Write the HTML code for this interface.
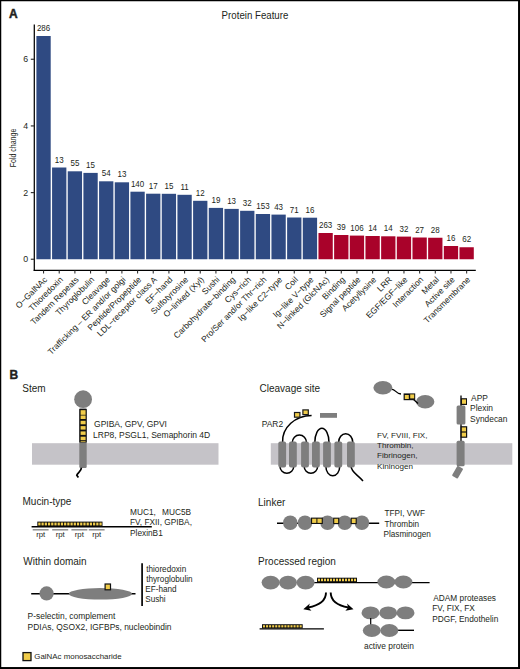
<!DOCTYPE html>
<html><head><meta charset="utf-8"><style>
html,body{margin:0;padding:0;background:#fff;overflow:hidden;}
svg{display:block;font-family:"Liberation Sans", sans-serif;}
</style></head><body>
<svg width="520" height="669" viewBox="0 0 520 669">
<rect x="0" y="0" width="520" height="669" fill="#fff"/>
<text x="9" y="18.3" font-size="12" font-weight="bold" fill="#231f20" stroke="#231f20" stroke-width="0.45">A</text>
<text transform="translate(255,19.1) scale(1,1.12)" font-size="9.7" text-anchor="middle" fill="#231f20">Protein Feature</text>
<text transform="translate(15.7,148) rotate(-90) scale(0.78,1)" font-size="9" text-anchor="middle" fill="#231f20">Fold change</text>
<line x1="34.3" y1="24.6" x2="34.3" y2="271.1" stroke="#000" stroke-width="1.25"/>
<line x1="33.7" y1="270.4" x2="475.8" y2="270.4" stroke="#000" stroke-width="1.35"/>
<line x1="30.8" y1="259.25" x2="34" y2="259.25" stroke="#333" stroke-width="1.2"/>
<text transform="translate(28.2,262.45) scale(1,1.1)" font-size="8.8" text-anchor="end" fill="#231f20">0</text>
<line x1="30.8" y1="192.59" x2="34" y2="192.59" stroke="#333" stroke-width="1.2"/>
<text transform="translate(28.2,195.79) scale(1,1.1)" font-size="8.8" text-anchor="end" fill="#231f20">2</text>
<line x1="30.8" y1="125.93" x2="34" y2="125.93" stroke="#333" stroke-width="1.2"/>
<text transform="translate(28.2,129.13) scale(1,1.1)" font-size="8.8" text-anchor="end" fill="#231f20">4</text>
<line x1="30.8" y1="59.27" x2="34" y2="59.27" stroke="#333" stroke-width="1.2"/>
<text transform="translate(28.2,62.47) scale(1,1.1)" font-size="8.8" text-anchor="end" fill="#231f20">6</text>
<rect x="36.40" y="36" width="14.3" height="223.25" fill="#2f4a82"/>
<text transform="translate(43.55,31.00) scale(1,1.1)" font-size="8" text-anchor="middle" fill="#231f20">286</text>
<line x1="43.55" y1="270.6" x2="43.55" y2="273.4" stroke="#333" stroke-width="1.1"/>
<text transform="translate(43.25,275.7) rotate(-45)" font-size="8.45" text-anchor="end" dominant-baseline="hanging" fill="#231f20">O−GalNAc</text>
<rect x="52.07" y="167.5" width="14.3" height="91.75" fill="#2f4a82"/>
<text transform="translate(59.22,162.50) scale(1,1.1)" font-size="8" text-anchor="middle" fill="#231f20">13</text>
<line x1="59.22" y1="270.6" x2="59.22" y2="273.4" stroke="#333" stroke-width="1.1"/>
<text transform="translate(58.92,275.7) rotate(-45)" font-size="8.45" text-anchor="end" dominant-baseline="hanging" fill="#231f20">Thioredoxin</text>
<rect x="67.74" y="171.3" width="14.3" height="87.95" fill="#2f4a82"/>
<text transform="translate(74.89,166.30) scale(1,1.1)" font-size="8" text-anchor="middle" fill="#231f20">55</text>
<line x1="74.89" y1="270.6" x2="74.89" y2="273.4" stroke="#333" stroke-width="1.1"/>
<text transform="translate(74.59,275.7) rotate(-45)" font-size="8.45" text-anchor="end" dominant-baseline="hanging" fill="#231f20">Tandem Repeats</text>
<rect x="83.41" y="172.9" width="14.3" height="86.35" fill="#2f4a82"/>
<text transform="translate(90.56,167.90) scale(1,1.1)" font-size="8" text-anchor="middle" fill="#231f20">15</text>
<line x1="90.56" y1="270.6" x2="90.56" y2="273.4" stroke="#333" stroke-width="1.1"/>
<text transform="translate(90.26,275.7) rotate(-45)" font-size="8.45" text-anchor="end" dominant-baseline="hanging" fill="#231f20">Thyroglobulin</text>
<rect x="99.08" y="181.3" width="14.3" height="77.95" fill="#2f4a82"/>
<text transform="translate(106.23,176.30) scale(1,1.1)" font-size="8" text-anchor="middle" fill="#231f20">54</text>
<line x1="106.23" y1="270.6" x2="106.23" y2="273.4" stroke="#333" stroke-width="1.1"/>
<text transform="translate(105.93,275.7) rotate(-45)" font-size="8.45" text-anchor="end" dominant-baseline="hanging" fill="#231f20">Cleavage</text>
<rect x="114.75" y="182.3" width="14.3" height="76.95" fill="#2f4a82"/>
<text transform="translate(121.90,177.30) scale(1,1.1)" font-size="8" text-anchor="middle" fill="#231f20">13</text>
<line x1="121.90" y1="270.6" x2="121.90" y2="273.4" stroke="#333" stroke-width="1.1"/>
<text transform="translate(121.60,275.7) rotate(-45)" font-size="8.45" text-anchor="end" dominant-baseline="hanging" fill="#231f20">Trafficking – ER and/or golgi</text>
<rect x="130.42" y="191.7" width="14.3" height="67.55" fill="#2f4a82"/>
<text transform="translate(137.57,186.70) scale(1,1.1)" font-size="8" text-anchor="middle" fill="#231f20">140</text>
<line x1="137.57" y1="270.6" x2="137.57" y2="273.4" stroke="#333" stroke-width="1.1"/>
<text transform="translate(137.27,275.7) rotate(-45)" font-size="8.45" text-anchor="end" dominant-baseline="hanging" fill="#231f20">Peptide/Propeptide</text>
<rect x="146.09" y="193.7" width="14.3" height="65.55" fill="#2f4a82"/>
<text transform="translate(153.24,188.70) scale(1,1.1)" font-size="8" text-anchor="middle" fill="#231f20">17</text>
<line x1="153.24" y1="270.6" x2="153.24" y2="273.4" stroke="#333" stroke-width="1.1"/>
<text transform="translate(152.94,275.7) rotate(-45)" font-size="8.45" text-anchor="end" dominant-baseline="hanging" fill="#231f20">LDL−receptor class A</text>
<rect x="161.76" y="193.8" width="14.3" height="65.45" fill="#2f4a82"/>
<text transform="translate(168.91,188.80) scale(1,1.1)" font-size="8" text-anchor="middle" fill="#231f20">15</text>
<line x1="168.91" y1="270.6" x2="168.91" y2="273.4" stroke="#333" stroke-width="1.1"/>
<text transform="translate(168.61,275.7) rotate(-45)" font-size="8.45" text-anchor="end" dominant-baseline="hanging" fill="#231f20">EF−hand</text>
<rect x="177.43" y="194.8" width="14.3" height="64.45" fill="#2f4a82"/>
<text transform="translate(184.58,189.80) scale(1,1.1)" font-size="8" text-anchor="middle" fill="#231f20">11</text>
<line x1="184.58" y1="270.6" x2="184.58" y2="273.4" stroke="#333" stroke-width="1.1"/>
<text transform="translate(184.28,275.7) rotate(-45)" font-size="8.45" text-anchor="end" dominant-baseline="hanging" fill="#231f20">Sulfotyrosine</text>
<rect x="193.10" y="200.8" width="14.3" height="58.45" fill="#2f4a82"/>
<text transform="translate(200.25,195.80) scale(1,1.1)" font-size="8" text-anchor="middle" fill="#231f20">12</text>
<line x1="200.25" y1="270.6" x2="200.25" y2="273.4" stroke="#333" stroke-width="1.1"/>
<text transform="translate(199.95,275.7) rotate(-45)" font-size="8.45" text-anchor="end" dominant-baseline="hanging" fill="#231f20">O−linked (Xyl)</text>
<rect x="208.77" y="207.9" width="14.3" height="51.35" fill="#2f4a82"/>
<text transform="translate(215.92,202.90) scale(1,1.1)" font-size="8" text-anchor="middle" fill="#231f20">19</text>
<line x1="215.92" y1="270.6" x2="215.92" y2="273.4" stroke="#333" stroke-width="1.1"/>
<text transform="translate(215.62,275.7) rotate(-45)" font-size="8.45" text-anchor="end" dominant-baseline="hanging" fill="#231f20">Sushi</text>
<rect x="224.44" y="208.9" width="14.3" height="50.35" fill="#2f4a82"/>
<text transform="translate(231.59,203.90) scale(1,1.1)" font-size="8" text-anchor="middle" fill="#231f20">13</text>
<line x1="231.59" y1="270.6" x2="231.59" y2="273.4" stroke="#333" stroke-width="1.1"/>
<text transform="translate(231.29,275.7) rotate(-45)" font-size="8.45" text-anchor="end" dominant-baseline="hanging" fill="#231f20">Carbohydrate−binding</text>
<rect x="240.11" y="210.8" width="14.3" height="48.45" fill="#2f4a82"/>
<text transform="translate(247.26,205.80) scale(1,1.1)" font-size="8" text-anchor="middle" fill="#231f20">32</text>
<line x1="247.26" y1="270.6" x2="247.26" y2="273.4" stroke="#333" stroke-width="1.1"/>
<text transform="translate(246.96,275.7) rotate(-45)" font-size="8.45" text-anchor="end" dominant-baseline="hanging" fill="#231f20">Cys−rich</text>
<rect x="255.78" y="214" width="14.3" height="45.25" fill="#2f4a82"/>
<text transform="translate(262.93,209.00) scale(1,1.1)" font-size="8" text-anchor="middle" fill="#231f20">153</text>
<line x1="262.93" y1="270.6" x2="262.93" y2="273.4" stroke="#333" stroke-width="1.1"/>
<text transform="translate(262.63,275.7) rotate(-45)" font-size="8.45" text-anchor="end" dominant-baseline="hanging" fill="#231f20">Pro/Ser and/or Thr−rich</text>
<rect x="271.45" y="214.6" width="14.3" height="44.65" fill="#2f4a82"/>
<text transform="translate(278.60,209.60) scale(1,1.1)" font-size="8" text-anchor="middle" fill="#231f20">43</text>
<line x1="278.60" y1="270.6" x2="278.60" y2="273.4" stroke="#333" stroke-width="1.1"/>
<text transform="translate(278.30,275.7) rotate(-45)" font-size="8.45" text-anchor="end" dominant-baseline="hanging" fill="#231f20">Ig−like C2−type</text>
<rect x="287.12" y="217.5" width="14.3" height="41.75" fill="#2f4a82"/>
<text transform="translate(294.27,212.50) scale(1,1.1)" font-size="8" text-anchor="middle" fill="#231f20">71</text>
<line x1="294.27" y1="270.6" x2="294.27" y2="273.4" stroke="#333" stroke-width="1.1"/>
<text transform="translate(293.97,275.7) rotate(-45)" font-size="8.45" text-anchor="end" dominant-baseline="hanging" fill="#231f20">Coil</text>
<rect x="302.79" y="217.7" width="14.3" height="41.55" fill="#2f4a82"/>
<text transform="translate(309.94,212.70) scale(1,1.1)" font-size="8" text-anchor="middle" fill="#231f20">16</text>
<line x1="309.94" y1="270.6" x2="309.94" y2="273.4" stroke="#333" stroke-width="1.1"/>
<text transform="translate(309.64,275.7) rotate(-45)" font-size="8.45" text-anchor="end" dominant-baseline="hanging" fill="#231f20">Ig−like V−type</text>
<rect x="318.46" y="233" width="14.3" height="26.25" fill="#a9022a"/>
<text transform="translate(325.61,228.00) scale(1,1.1)" font-size="8" text-anchor="middle" fill="#231f20">263</text>
<line x1="325.61" y1="270.6" x2="325.61" y2="273.4" stroke="#333" stroke-width="1.1"/>
<text transform="translate(325.31,275.7) rotate(-45)" font-size="8.45" text-anchor="end" dominant-baseline="hanging" fill="#231f20">N−linked (GlcNAc)</text>
<rect x="334.13" y="235" width="14.3" height="24.25" fill="#a9022a"/>
<text transform="translate(341.28,230.00) scale(1,1.1)" font-size="8" text-anchor="middle" fill="#231f20">39</text>
<line x1="341.28" y1="270.6" x2="341.28" y2="273.4" stroke="#333" stroke-width="1.1"/>
<text transform="translate(340.98,275.7) rotate(-45)" font-size="8.45" text-anchor="end" dominant-baseline="hanging" fill="#231f20">Binding</text>
<rect x="349.80" y="235.6" width="14.3" height="23.65" fill="#a9022a"/>
<text transform="translate(356.95,230.60) scale(1,1.1)" font-size="8" text-anchor="middle" fill="#231f20">106</text>
<line x1="356.95" y1="270.6" x2="356.95" y2="273.4" stroke="#333" stroke-width="1.1"/>
<text transform="translate(356.65,275.7) rotate(-45)" font-size="8.45" text-anchor="end" dominant-baseline="hanging" fill="#231f20">Signal peptide</text>
<rect x="365.47" y="236" width="14.3" height="23.25" fill="#a9022a"/>
<text transform="translate(372.62,231.00) scale(1,1.1)" font-size="8" text-anchor="middle" fill="#231f20">14</text>
<line x1="372.62" y1="270.6" x2="372.62" y2="273.4" stroke="#333" stroke-width="1.1"/>
<text transform="translate(372.32,275.7) rotate(-45)" font-size="8.45" text-anchor="end" dominant-baseline="hanging" fill="#231f20">Acetyllysine</text>
<rect x="381.14" y="236.3" width="14.3" height="22.95" fill="#a9022a"/>
<text transform="translate(388.29,231.30) scale(1,1.1)" font-size="8" text-anchor="middle" fill="#231f20">14</text>
<line x1="388.29" y1="270.6" x2="388.29" y2="273.4" stroke="#333" stroke-width="1.1"/>
<text transform="translate(387.99,275.7) rotate(-45)" font-size="8.45" text-anchor="end" dominant-baseline="hanging" fill="#231f20">LRR</text>
<rect x="396.81" y="236.6" width="14.3" height="22.65" fill="#a9022a"/>
<text transform="translate(403.96,231.60) scale(1,1.1)" font-size="8" text-anchor="middle" fill="#231f20">32</text>
<line x1="403.96" y1="270.6" x2="403.96" y2="273.4" stroke="#333" stroke-width="1.1"/>
<text transform="translate(403.66,275.7) rotate(-45)" font-size="8.45" text-anchor="end" dominant-baseline="hanging" fill="#231f20">EGF/EGF−like</text>
<rect x="412.48" y="237.5" width="14.3" height="21.75" fill="#a9022a"/>
<text transform="translate(419.63,232.50) scale(1,1.1)" font-size="8" text-anchor="middle" fill="#231f20">27</text>
<line x1="419.63" y1="270.6" x2="419.63" y2="273.4" stroke="#333" stroke-width="1.1"/>
<text transform="translate(419.33,275.7) rotate(-45)" font-size="8.45" text-anchor="end" dominant-baseline="hanging" fill="#231f20">Interaction</text>
<rect x="428.15" y="237.75" width="14.3" height="21.50" fill="#a9022a"/>
<text transform="translate(435.30,232.75) scale(1,1.1)" font-size="8" text-anchor="middle" fill="#231f20">28</text>
<line x1="435.30" y1="270.6" x2="435.30" y2="273.4" stroke="#333" stroke-width="1.1"/>
<text transform="translate(435.00,275.7) rotate(-45)" font-size="8.45" text-anchor="end" dominant-baseline="hanging" fill="#231f20">Metal</text>
<rect x="443.82" y="246" width="14.3" height="13.25" fill="#a9022a"/>
<text transform="translate(450.97,241.00) scale(1,1.1)" font-size="8" text-anchor="middle" fill="#231f20">16</text>
<line x1="450.97" y1="270.6" x2="450.97" y2="273.4" stroke="#333" stroke-width="1.1"/>
<text transform="translate(450.67,275.7) rotate(-45)" font-size="8.45" text-anchor="end" dominant-baseline="hanging" fill="#231f20">Active site</text>
<rect x="459.49" y="247.25" width="14.3" height="12.00" fill="#a9022a"/>
<text transform="translate(466.64,242.25) scale(1,1.1)" font-size="8" text-anchor="middle" fill="#231f20">62</text>
<line x1="466.64" y1="270.6" x2="466.64" y2="273.4" stroke="#333" stroke-width="1.1"/>
<text transform="translate(466.34,275.7) rotate(-45)" font-size="8.45" text-anchor="end" dominant-baseline="hanging" fill="#231f20">Transmembrane</text>
<text x="9.5" y="378.7" font-size="12" font-weight="bold" fill="#231f20" stroke="#231f20" stroke-width="0.4">B</text>
<rect x="32" y="443.2" width="186.5" height="21.5" fill="#c5c3c8"/>
<rect x="270.8" y="443.2" width="241.5" height="21.5" fill="#c5c3c8"/>
<circle cx="83.1" cy="399.2" r="8.9" fill="#7e7e7e"/>
<rect x="79.3" y="408.5" width="7.4" height="59.5" rx="1.2" fill="#7e7e7e"/>
<rect x="79.3" y="408.8" width="7.4" height="33.6" fill="#111"/>
<rect x="80.6" y="410.20" width="5.0" height="4.6" fill="#f0cc4a"/>
<rect x="80.6" y="415.50" width="5.0" height="3.5" fill="#f0cc4a"/>
<rect x="80.6" y="420.80" width="5.0" height="3.5" fill="#f0cc4a"/>
<rect x="80.6" y="426.10" width="5.0" height="3.5" fill="#f0cc4a"/>
<rect x="80.6" y="431.40" width="5.0" height="3.5" fill="#f0cc4a"/>
<rect x="80.6" y="436.70" width="5.0" height="3.5" fill="#f0cc4a"/>
<rect x="80.6" y="441" width="5.0" height="1.1" fill="#f0cc4a" opacity="0.7"/>
<path d="M81.4 467.8 C81.4 471.5, 77.5 472.5, 76.8 475.3 L78.4 477.6" stroke="#000" stroke-width="1.7" fill="none"/>
<path d="M282.6 442 A29 25.8 0 0 1 311.6 415.4" stroke="#000" stroke-width="1.5" fill="none"/>
<rect x="294.5" y="412.5" width="5.4" height="4.7" fill="#f0cc4a" stroke="#1a1a1a" stroke-width="1.2"/>
<rect x="302.9" y="409.9" width="5.4" height="4.7" fill="#f0cc4a" stroke="#1a1a1a" stroke-width="1.2"/>
<rect x="320" y="413" width="17" height="4.8" fill="#7e7e7e"/>
<path d="M292.3 442.5 A7.10 7.40 0 0 1 306.5 442.5" stroke="#000" stroke-width="1.5" fill="none"/>
<path d="M314.8 442.5 A7.10 14.20 0 0 1 329.0 442.5" stroke="#000" stroke-width="1.5" fill="none"/>
<path d="M338.6 442.5 A7.10 8.80 0 0 1 352.8 442.5" stroke="#000" stroke-width="1.5" fill="none"/>
<path d="M280.0 466.5 A6.85 6.70 0 0 0 293.7 466.5" stroke="#000" stroke-width="1.5" fill="none"/>
<path d="M304.2 466.5 A6.70 6.70 0 0 0 317.6 466.5" stroke="#000" stroke-width="1.5" fill="none"/>
<path d="M325.9 466.5 A6.90 9.30 0 0 0 339.7 466.5" stroke="#000" stroke-width="1.5" fill="none"/>
<path d="M351 466 C351 472, 357 474, 363 481" stroke="#000" stroke-width="1.5" fill="none"/>
<rect x="278.3" y="441.6" width="7.8" height="26" rx="2" fill="#7e7e7e"/>
<rect x="289" y="441.6" width="7.8" height="26" rx="2" fill="#7e7e7e"/>
<rect x="301.1" y="441.6" width="7.8" height="26" rx="2" fill="#7e7e7e"/>
<rect x="312" y="441.6" width="7.8" height="26" rx="2" fill="#7e7e7e"/>
<rect x="323.1" y="441.6" width="7.8" height="26" rx="2" fill="#7e7e7e"/>
<rect x="334.4" y="441.6" width="7.8" height="26" rx="2" fill="#7e7e7e"/>
<rect x="347" y="441.6" width="7.8" height="26" rx="2" fill="#7e7e7e"/>
<ellipse cx="382.9" cy="387.8" rx="9.5" ry="6.8" fill="#7e7e7e"/>
<ellipse cx="425.2" cy="401.7" rx="9.2" ry="6.8" fill="#7e7e7e"/>
<path d="M392 389.3 C395 389, 396 393.8, 401 394" stroke="#000" stroke-width="1.3" fill="none"/>
<path d="M413 399 L418 403.5" stroke="#000" stroke-width="1.3" fill="none"/>
<rect x="403.6" y="393.4" width="11.6" height="6.8" fill="#111"/>
<rect x="404.8" y="395" width="4" height="4" fill="#f0cc4a"/>
<rect x="410.2" y="394.4" width="4" height="4" fill="#f0cc4a"/>
<line x1="461" y1="395.4" x2="461" y2="443" stroke="#000" stroke-width="1.3"/>
<rect x="460.8" y="398.2" width="6.2" height="6.8" fill="#111"/>
<rect x="462" y="399.4" width="4" height="4.4" fill="#f0cc4a"/>
<rect x="456.6" y="405.4" width="8.8" height="19.2" rx="1.5" fill="#7e7e7e"/>
<rect x="460.6" y="426.2" width="6.6" height="11.6" fill="#111"/>
<rect x="461.8" y="427.4" width="4.2" height="4" fill="#f0cc4a"/>
<rect x="461.8" y="432.6" width="4.2" height="4" fill="#f0cc4a"/>
<rect x="456.6" y="440.8" width="8" height="25.4" rx="1.5" fill="#7e7e7e"/>
<rect x="-3.3" y="-5.7" width="6.6" height="11.4" rx="0.8" fill="#7e7e7e" transform="translate(457.6,472.2) rotate(30)"/>
<line x1="31.6" y1="526.8" x2="151.8" y2="526.8" stroke="#000" stroke-width="1.4"/>
<rect x="37.3" y="521.6" width="65.2" height="4.8" fill="#111"/>
<rect x="38.30" y="522.6" width="2.2" height="2.8" fill="#f0cc4a"/>
<rect x="41.52" y="522.6" width="2.2" height="2.8" fill="#f0cc4a"/>
<rect x="44.74" y="522.6" width="2.2" height="2.8" fill="#f0cc4a"/>
<rect x="47.96" y="522.6" width="2.2" height="2.8" fill="#f0cc4a"/>
<rect x="51.18" y="522.6" width="2.2" height="2.8" fill="#f0cc4a"/>
<rect x="54.40" y="522.6" width="2.2" height="2.8" fill="#f0cc4a"/>
<rect x="57.62" y="522.6" width="2.2" height="2.8" fill="#f0cc4a"/>
<rect x="60.84" y="522.6" width="2.2" height="2.8" fill="#f0cc4a"/>
<rect x="64.06" y="522.6" width="2.2" height="2.8" fill="#f0cc4a"/>
<rect x="67.28" y="522.6" width="2.2" height="2.8" fill="#f0cc4a"/>
<rect x="70.50" y="522.6" width="2.2" height="2.8" fill="#f0cc4a"/>
<rect x="73.72" y="522.6" width="2.2" height="2.8" fill="#f0cc4a"/>
<rect x="76.94" y="522.6" width="2.2" height="2.8" fill="#f0cc4a"/>
<rect x="80.16" y="522.6" width="2.2" height="2.8" fill="#f0cc4a"/>
<rect x="83.38" y="522.6" width="2.2" height="2.8" fill="#f0cc4a"/>
<rect x="86.60" y="522.6" width="2.2" height="2.8" fill="#f0cc4a"/>
<rect x="89.82" y="522.6" width="2.2" height="2.8" fill="#f0cc4a"/>
<rect x="93.04" y="522.6" width="2.2" height="2.8" fill="#f0cc4a"/>
<rect x="96.26" y="522.6" width="2.2" height="2.8" fill="#f0cc4a"/>
<rect x="99.48" y="522.6" width="2.2" height="2.8" fill="#f0cc4a"/>
<line x1="32.7" y1="529.8" x2="48.6" y2="529.8" stroke="#888" stroke-width="1.4"/>
<text x="40.7" y="537.4" font-size="7.8" text-anchor="middle" fill="#231f20">rpt</text>
<line x1="52.2" y1="529.8" x2="68.2" y2="529.8" stroke="#888" stroke-width="1.4"/>
<text x="60.2" y="537.4" font-size="7.8" text-anchor="middle" fill="#231f20">rpt</text>
<line x1="71.4" y1="529.8" x2="87.3" y2="529.8" stroke="#888" stroke-width="1.4"/>
<text x="79.3" y="537.4" font-size="7.8" text-anchor="middle" fill="#231f20">rpt</text>
<line x1="88.8" y1="529.8" x2="104.6" y2="529.8" stroke="#888" stroke-width="1.4"/>
<text x="96.7" y="537.4" font-size="7.8" text-anchor="middle" fill="#231f20">rpt</text>
<line x1="31.2" y1="593.8" x2="135.5" y2="593.8" stroke="#000" stroke-width="1.4"/>
<circle cx="46.6" cy="593.4" r="7.1" fill="#7e7e7e"/>
<ellipse cx="100.4" cy="593.8" rx="31.6" ry="5.8" fill="#7e7e7e"/>
<rect x="105.1" y="584" width="5.4" height="5.8" fill="#f0cc4a" stroke="#111" stroke-width="1.2"/>
<line x1="142.1" y1="563.3" x2="142.1" y2="605.9" stroke="#111" stroke-width="1.8"/>
<rect x="23" y="652.6" width="8" height="8" fill="#f0cc4a" stroke="#111" stroke-width="1.3"/>
<line x1="277" y1="523.2" x2="379.2" y2="523.2" stroke="#000" stroke-width="1.4"/>
<circle cx="290.25" cy="522.75" r="7.25" fill="#7e7e7e"/>
<circle cx="305" cy="522.75" r="7.25" fill="#7e7e7e"/>
<circle cx="327.5" cy="522.75" r="7.25" fill="#7e7e7e"/>
<circle cx="344.75" cy="522.75" r="7.25" fill="#7e7e7e"/>
<circle cx="361.9" cy="522.75" r="7.25" fill="#7e7e7e"/>
<rect x="311" y="517.6" width="11.8" height="6.4" fill="#111"/>
<rect x="312.1" y="518.7" width="4.3" height="4.2" fill="#f0cc4a"/>
<rect x="317.4" y="518.7" width="4.3" height="4.2" fill="#f0cc4a"/>
<rect x="333.7" y="518.2" width="5" height="5.4" fill="#f0cc4a" stroke="#111" stroke-width="1.1"/>
<rect x="351.2" y="518.2" width="5" height="5.4" fill="#f0cc4a" stroke="#111" stroke-width="1.1"/>
<line x1="300" y1="582.6" x2="429.6" y2="582.6" stroke="#000" stroke-width="1.4"/>
<ellipse cx="270.6" cy="582.6" rx="9" ry="6.8" fill="#7e7e7e"/>
<ellipse cx="288" cy="582.6" rx="9" ry="6.8" fill="#7e7e7e"/>
<ellipse cx="305.6" cy="582.6" rx="9" ry="6.8" fill="#7e7e7e"/>
<ellipse cx="386.4" cy="582" rx="9" ry="6.5" fill="#7e7e7e"/>
<ellipse cx="403.4" cy="582" rx="9" ry="6.5" fill="#7e7e7e"/>
<rect x="317" y="577.7" width="40" height="4.5" fill="#111"/>
<rect x="318.00" y="578.70" width="2.00" height="2.50" fill="#f0cc4a"/>
<rect x="321.00" y="578.70" width="2.00" height="2.50" fill="#f0cc4a"/>
<rect x="324.00" y="578.70" width="2.00" height="2.50" fill="#f0cc4a"/>
<rect x="327.00" y="578.70" width="2.00" height="2.50" fill="#f0cc4a"/>
<rect x="330.00" y="578.70" width="2.00" height="2.50" fill="#f0cc4a"/>
<rect x="333.00" y="578.70" width="2.00" height="2.50" fill="#f0cc4a"/>
<rect x="336.00" y="578.70" width="2.00" height="2.50" fill="#f0cc4a"/>
<rect x="339.00" y="578.70" width="2.00" height="2.50" fill="#f0cc4a"/>
<rect x="342.00" y="578.70" width="2.00" height="2.50" fill="#f0cc4a"/>
<rect x="345.00" y="578.70" width="2.00" height="2.50" fill="#f0cc4a"/>
<rect x="348.00" y="578.70" width="2.00" height="2.50" fill="#f0cc4a"/>
<rect x="351.00" y="578.70" width="2.00" height="2.50" fill="#f0cc4a"/>
<rect x="354.00" y="578.70" width="2.00" height="2.50" fill="#f0cc4a"/>
<rect x="262" y="624.2" width="40.7" height="4.2" fill="#111"/>
<rect x="263.00" y="625.20" width="2.05" height="2.20" fill="#f0cc4a"/>
<rect x="266.05" y="625.20" width="2.05" height="2.20" fill="#f0cc4a"/>
<rect x="269.11" y="625.20" width="2.05" height="2.20" fill="#f0cc4a"/>
<rect x="272.16" y="625.20" width="2.05" height="2.20" fill="#f0cc4a"/>
<rect x="275.22" y="625.20" width="2.05" height="2.20" fill="#f0cc4a"/>
<rect x="278.27" y="625.20" width="2.05" height="2.20" fill="#f0cc4a"/>
<rect x="281.32" y="625.20" width="2.05" height="2.20" fill="#f0cc4a"/>
<rect x="284.38" y="625.20" width="2.05" height="2.20" fill="#f0cc4a"/>
<rect x="287.43" y="625.20" width="2.05" height="2.20" fill="#f0cc4a"/>
<rect x="290.48" y="625.20" width="2.05" height="2.20" fill="#f0cc4a"/>
<rect x="293.54" y="625.20" width="2.05" height="2.20" fill="#f0cc4a"/>
<rect x="296.59" y="625.20" width="2.05" height="2.20" fill="#f0cc4a"/>
<rect x="299.65" y="625.20" width="2.05" height="2.20" fill="#f0cc4a"/>
<line x1="259.6" y1="628.9" x2="323.9" y2="628.9" stroke="#000" stroke-width="1.4"/>
<path d="M326 592.4 C326 601, 318 605.5, 308 607.5" stroke="#000" stroke-width="1.9" fill="none"/>
<path d="M303.3 609.2 L309.8 603.5 L308.6 607.6 L311.4 610.8 Z" fill="#000"/>
<path d="M330.7 592.4 C330.7 601, 338 605.5, 348.5 607.5" stroke="#000" stroke-width="1.9" fill="none"/>
<path d="M353.5 609.2 L347 603.5 L348.2 607.6 L345.4 610.8 Z" fill="#000"/>
<ellipse cx="370.5" cy="612.9" rx="9" ry="6.4" fill="#7e7e7e"/>
<ellipse cx="388.2" cy="612.9" rx="9" ry="6.4" fill="#7e7e7e"/>
<ellipse cx="405.5" cy="612.9" rx="9" ry="6.4" fill="#7e7e7e"/>
<line x1="370.7" y1="618" x2="370.7" y2="625" stroke="#000" stroke-width="1.2"/>
<line x1="395" y1="630.3" x2="414" y2="630.3" stroke="#000" stroke-width="1.4"/>
<ellipse cx="371.8" cy="630.5" rx="9" ry="6.5" fill="#7e7e7e"/>
<ellipse cx="389.3" cy="630.5" rx="9" ry="6.5" fill="#7e7e7e"/>
<text x="22.3" y="391.9" font-size="10.0" fill="#231f20">Stem</text>
<text x="259.5" y="391.6" font-size="10.0" fill="#231f20">Cleavage site</text>
<text x="22.5" y="505.4" font-size="10.0" fill="#231f20">Mucin-type</text>
<text x="258.05" y="505.5" font-size="10.0" fill="#231f20">Linker</text>
<text x="23.3" y="564.5" font-size="10.0" fill="#231f20">Within domain</text>
<text x="258.1" y="565.3" font-size="10.0" fill="#231f20">Processed region</text>
<text x="94.05" y="426.5" font-size="8.5" fill="#231f20">GPIBA, GPV, GPVI</text>
<text x="93.05" y="437.8" font-size="8.5" fill="#231f20">LRP8, PSGL1, Semaphorin 4D</text>
<text x="261.8" y="427.3" font-size="8.4" fill="#231f20">PAR2</text>
<text x="377.0" y="437.6" font-size="8.1" fill="#231f20">FV, FVIII, FIX,</text>
<text x="377.0" y="447.9" font-size="8.1" fill="#231f20">Thrombin,</text>
<text x="377.0" y="458.4" font-size="8.1" fill="#231f20">Fibrinogen,</text>
<text x="377.0" y="468.6" font-size="8.1" fill="#231f20">Kininogen</text>
<text x="471.1" y="400.7" font-size="8.4" fill="#231f20">APP</text>
<text x="470.1" y="411.3" font-size="8.4" fill="#231f20">Plexin</text>
<text x="470.1" y="421.9" font-size="8.4" fill="#231f20">Syndecan</text>
<text x="130.0" y="514.5" font-size="8.3" fill="#231f20">MUC1,</text>
<text x="162.1" y="514.5" font-size="8.3" fill="#231f20">MUC5B</text>
<text x="130.0" y="525.1" font-size="8.3" fill="#231f20">FV, FXII, GPIBA,</text>
<text x="130.0" y="535.8" font-size="8.3" fill="#231f20">PlexinB1</text>
<text x="146.2" y="571.6" font-size="8.2" fill="#231f20">thioredoxin</text>
<text x="146.2" y="581.6" font-size="8.2" fill="#231f20">thyroglobulin</text>
<text x="145.2" y="592.0" font-size="8.2" fill="#231f20">EF-hand</text>
<text x="145.2" y="602.3" font-size="8.2" fill="#231f20">Sushi</text>
<text x="27.6" y="619.1" font-size="8.45" fill="#231f20">P-selectin, complement</text>
<text x="27.6" y="629.9" font-size="8.45" fill="#231f20">PDIAs, QSOX2, IGFBPs, nucleobindin</text>
<text x="34.3" y="659.3" font-size="7.9" fill="#231f20">GalNAc monosaccharide</text>
<text x="384.5" y="516.3" font-size="8.2" fill="#231f20">TFPI, VWF</text>
<text x="384.5" y="526.9" font-size="8.2" fill="#231f20">Thrombin</text>
<text x="383.5" y="537.3" font-size="8.2" fill="#231f20">Plasminogen</text>
<text x="433.3" y="600.6" font-size="8.3" fill="#231f20">ADAM proteases</text>
<text x="432.3" y="611.0" font-size="8.3" fill="#231f20">FV, FIX, FX</text>
<text x="432.3" y="621.9" font-size="8.3" fill="#231f20">PDGF, Endothelin</text>
<text x="364.0" y="648.8" font-size="8.4" fill="#231f20">active protein</text>
<rect x="0.6" y="0.6" width="518.2" height="667.2" fill="none" stroke="#000" stroke-width="1.3"/>
<rect x="518.3" y="0" width="1.7" height="669" fill="#000"/>
<rect x="0" y="667.3" width="520" height="1.7" fill="#000"/>
</svg>
</body></html>
